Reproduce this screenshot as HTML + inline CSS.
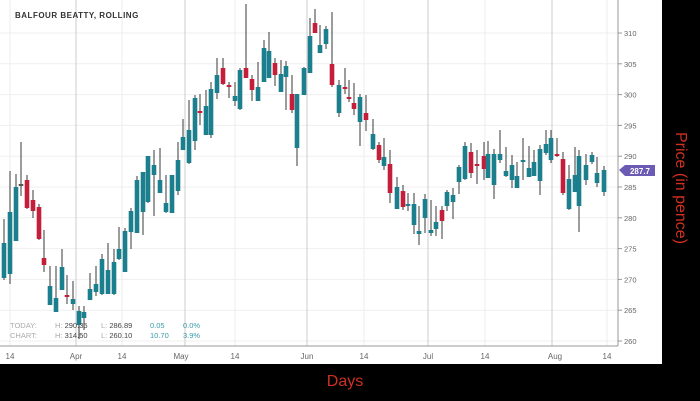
<!DOCTYPE html>
<html><head><meta charset="utf-8"><style>
body{margin:0;background:#000;width:700px;height:401px;overflow:hidden;font-family:"Liberation Sans",sans-serif}
</style></head><body>
<svg id="s" width="700" height="401" xmlns="http://www.w3.org/2000/svg" style="position:absolute;left:0;top:0">
<rect x="0" y="0" width="700" height="401" fill="#000"/>
<rect x="0" y="0" width="662" height="364" fill="#fff"/>
<g id="grid"></g>
<line x1="618" y1="0" x2="618" y2="346" stroke="#999" stroke-width="1"/>
<line x1="0" y1="346" x2="618" y2="346" stroke="#999" stroke-width="1"/>
<g id="c"></g>
<text x="15" y="18" font-size="8" font-weight="bold" fill="#333" letter-spacing="0.5">BALFOUR BEATTY, ROLLING</text>
<g font-size="7.5" fill="#aaa">
<text x="10" y="328">TODAY:</text><text x="10" y="338">CHART:</text>
<text x="55" y="328">H: <tspan fill="#444">290.35</tspan></text><text x="55" y="338">H: <tspan fill="#444">314.50</tspan></text>
<text x="101" y="328">L: <tspan fill="#444">286.89</tspan></text><text x="101" y="338">L: <tspan fill="#444">260.10</tspan></text>
<text x="150" y="328" fill="#3a9aa8">0.05</text><text x="150" y="338" fill="#3a9aa8">10.70</text>
<text x="183" y="328" fill="#3a9aa8">0.0%</text><text x="183" y="338" fill="#3a9aa8">3.9%</text>
</g>
<g font-size="8" fill="#666" text-anchor="middle">
<text x="10" y="359">14</text><text x="76" y="359">Apr</text><text x="122" y="359">14</text><text x="181" y="359">May</text><text x="235" y="359">14</text><text x="307" y="359">Jun</text><text x="364" y="359">14</text><text x="428" y="359">Jul</text><text x="485" y="359">14</text><text x="555" y="359">Aug</text><text x="607" y="359">14</text>
</g>
<g id="yl" font-size="7.5" fill="#666"></g>
<polygon points="619,170 625,165 655,165 655,176 625,176" fill="#6b5bb5"/>
<text x="640" y="174" font-size="8" font-weight="bold" fill="#fff" text-anchor="middle">287.7</text>
<text x="345" y="386" font-size="16" fill="#d03020" text-anchor="middle">Days</text>
<text transform="translate(676,188) rotate(90)" font-size="16" fill="#d03020" text-anchor="middle">Price (in pence)</text>
</svg>
<script>
var ns="http://www.w3.org/2000/svg";
function el(p,t,a){var e=document.createElementNS(ns,t);for(var k in a)e.setAttribute(k,a[k]);p.appendChild(e);return e;}
var g=document.getElementById("grid"),yl=document.getElementById("yl");
for(var p=260;p<=310;p+=5){var y=33+(310-p)*6.16;el(g,"line",{x1:0,x2:618,y1:y,y2:y,stroke:"#efefef"});el(g,"line",{x1:618,x2:622,y1:y,y2:y,stroke:"#999"});var t=el(yl,"text",{x:624,y:y+3});t.textContent=p;}
[76,185,307,428,552].forEach(function(x){el(g,"line",{x1:x,x2:x,y1:0,y2:346,stroke:"#ccc"});});
[10,122,235,364,485,607].forEach(function(x){el(g,"line",{x1:x,x2:x,y1:0,y2:346,stroke:"#eee"});});
var d=[[4,219,280,243,278,0],[10,171,284,212,274,0],[16,174,241,187,241,0],[21,142,196,184,186,2],[27,175,209,180,208,1],[33,190,218,200,211,1],[39,204,240,207,239,1],[44,230,272,258,265,1],[50,266,305,286,305,0],[56,266,312,298,312,0],[62,249,290,267,290,0],[67,275,304,295,297,1],[73,281,310,299,304,0],[79,306,339,311,325,0],[84,306,330,312,318,0],[90,273,300,289,300,0],[96,266,296,284,292,0],[102,254,295,259,294,0],[108,243,294,270,294,0],[114,249,295,262,294,0],[119,227,260,249,259,0],[125,228,272,231,272,0],[131,208,249,211,232,0],[137,176,231,180,233,0],[143,172,235,172,212,0],[148,156,203,156,202,0],[154,150,216,165,175,0],[160,148,193,180,193,0],[166,175,213,203,212,0],[172,175,213,175,213,0],[178,142,195,160,191,0],[183,119,150,137,150,0],[189,100,164,130,163,0],[195,95,150,98,141,0],[200,94,125,111,113,1],[206,90,132,106,135,0],[211,82,138,89,135,0],[217,58,99,75,93,0],[223,58,85,68,84,1],[229,82,98,85,87,1],[235,82,106,96,101,0],[240,68,110,70,109,0],[246,4,78,68,78,1],[252,75,101,79,90,1],[258,62,100,87,101,0],[264,40,82,48,82,0],[269,32,78,51,78,0],[275,58,86,63,75,1],[281,60,92,74,92,0],[286,61,110,66,77,0],[292,75,113,94,110,1],[297,94,166,94,148,0],[304,67,95,68,95,0],[310,18,73,36,73,0],[315,9,33,23,33,1],[320,25,52,45,53,0],[326,26,49,29,44,0],[332,12,87,64,85,1],[339,80,117,85,113,0],[345,68,94,87,89,1],[349,80,102,97,99,1],[354,83,115,103,109,1],[360,94,146,97,122,0],[366,95,131,113,120,1],[373,119,150,134,149,0],[379,142,163,145,160,1],[384,138,170,157,166,0],[390,150,203,164,193,1],[397,177,209,187,209,0],[403,185,210,191,207,1],[408,193,211,204,206,0],[414,193,234,204,225,0],[419,206,245,231,234,0],[425,194,233,199,218,0],[431,200,236,230,233,0],[436,206,236,222,229,0],[442,206,239,210,221,1],[447,190,211,192,206,0],[453,188,219,195,202,0],[459,165,194,167,182,0],[465,142,180,146,179,0],[471,143,178,152,173,1],[477,150,184,164,166,1],[484,142,180,156,169,1],[488,141,178,154,178,0],[494,149,199,154,185,0],[500,130,163,154,160,0],[506,147,177,171,176,0],[512,155,188,165,180,0],[517,162,182,176,188,0],[523,138,180,160,162,0],[529,146,177,168,177,0],[534,150,176,162,176,0],[540,145,195,149,181,0],[546,130,155,144,153,0],[551,130,163,138,160,0],[557,138,157,154,156,1],[563,152,195,159,193,1],[569,165,210,179,209,0],[575,147,192,175,192,0],[579,150,232,156,206,0],[586,154,185,165,180,0],[592,152,164,155,162,0],[597,157,187,173,183,0],[604,166,196,170,192,0]];
var c=document.getElementById("c"),cols=["#1b7f8d","#c41e3a","#555"];
d.forEach(function(k){el(c,"line",{x1:k[0],x2:k[0],y1:k[1],y2:k[2],stroke:"#3a3a3a","stroke-width":1});var h=Math.max(2,k[4]-k[3]);el(c,"rect",{x:k[0]-2.3,y:k[3],width:4.6,height:h,fill:cols[k[5]]});});
</script>
</body></html>
